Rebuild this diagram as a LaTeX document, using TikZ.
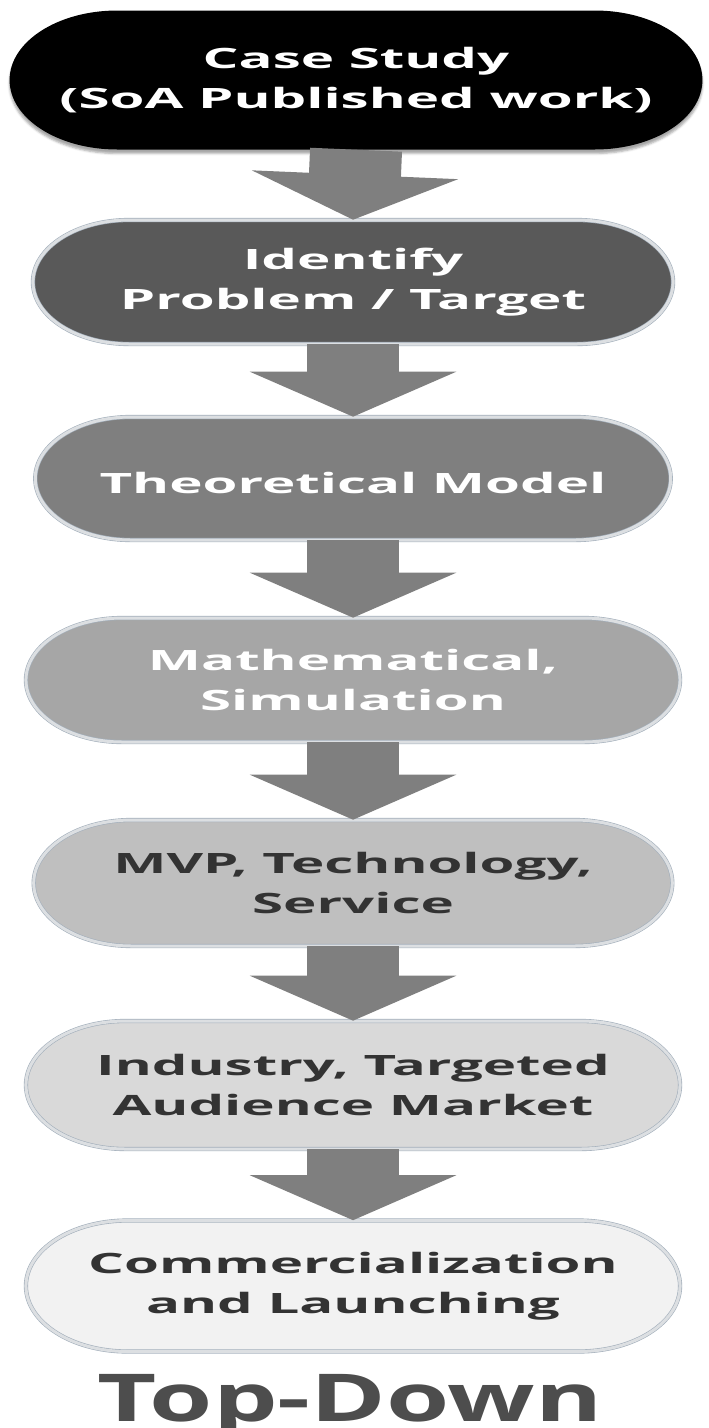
\documentclass[tikz,border=0pt]{standalone}
\usepackage{fontspec}
\setmainfont{Open Sans}
\newfontfamily\stagefont{Open Sans}[FakeStretch=1.3]
\usetikzlibrary{shapes.misc,arrows.meta,shadows.blur}

\definecolor{tonetwo}{HTML}{595959}
\definecolor{tonethree}{HTML}{7F7F7F}
\definecolor{tonefour}{HTML}{A6A6A6}
\definecolor{tonefive}{HTML}{BFBFBF}
\definecolor{tonesix}{HTML}{D9D9D9}
\definecolor{toneseven}{HTML}{F2F2F2}
\definecolor{rimblue}{HTML}{A3AFBB}
\definecolor{rimlight}{HTML}{DCDFE2}
\definecolor{arrowgray}{HTML}{7F7F7F}
\definecolor{darktext}{HTML}{333333}
\definecolor{titlegray}{HTML}{4D4D4D}

\begin{document}
\begin{tikzpicture}[
  x=0.64516pt,
  y=-1pt,
  xscale=1.55,
  every node/.append style={transform shape},
  stage/.style={
    rounded rectangle,
    inner sep=0pt,
    align=center,
    text=white,
    font=\stagefont\fontsize{28}{40}\selectfont\bfseries,
    execute at begin node={\rule{0pt}{31pt}}
  },
  rim/.style={
    draw=rimblue,
    line width=0.6pt,
    double=rimlight,
    double distance=3pt
  },
  flow/.style={
    draw=arrowgray,
    line width=92pt,
    -{Triangle[width=205pt,length=45pt]}
  }
]
\useasboundingbox (0,0) rectangle (709,1428);

% the seven stages, darkest on top
\node[stage, fill=black, minimum width=447pt, minimum height=139pt,
  blur shadow={shadow xshift=0pt, shadow yshift=-4pt, shadow opacity=35}]
  (study) at (356,80) {Case Study\\(SoA Published work)};
\node[stage, rim, fill=tonetwo, minimum width=413pt, minimum height=124pt]
  (problem) at (353,282) {Identify\\Problem / Target};
\node[stage, rim, fill=tonethree, minimum width=410pt, minimum height=123pt]
  (theory) at (353,478.5) {Theoretical Model};
\node[stage, rim, fill=tonefour, minimum width=422pt, minimum height=124pt]
  (maths) at (353,680) {Mathematical,\\Simulation};
\node[stage, rim, fill=tonefive, text=darktext, minimum width=412pt, minimum height=126pt]
  (mvp) at (353,883) {MVP, Technology,\\Service};
\node[stage, rim, fill=tonesix, text=darktext, minimum width=422pt, minimum height=128pt]
  (market) at (353,1085) {Industry, Targeted\\Audience Market};
\node[stage, rim, fill=toneseven, text=darktext, minimum width=422pt, minimum height=131pt]
  (launch) at (353,1286) {Commercialization\\and Launching};

% block arrows between the stages
\foreach \a/\b in {study/problem, problem/theory, theory/maths,
                   maths/mvp, mvp/market, market/launch}
  \draw[flow] (\a.south) -- (\b.north);

\node[anchor=base, text=titlegray, font=\fontsize{66}{76}\selectfont\bfseries]
  (title) at (350,1421) {Top-Down};
\end{tikzpicture}
\end{document}
